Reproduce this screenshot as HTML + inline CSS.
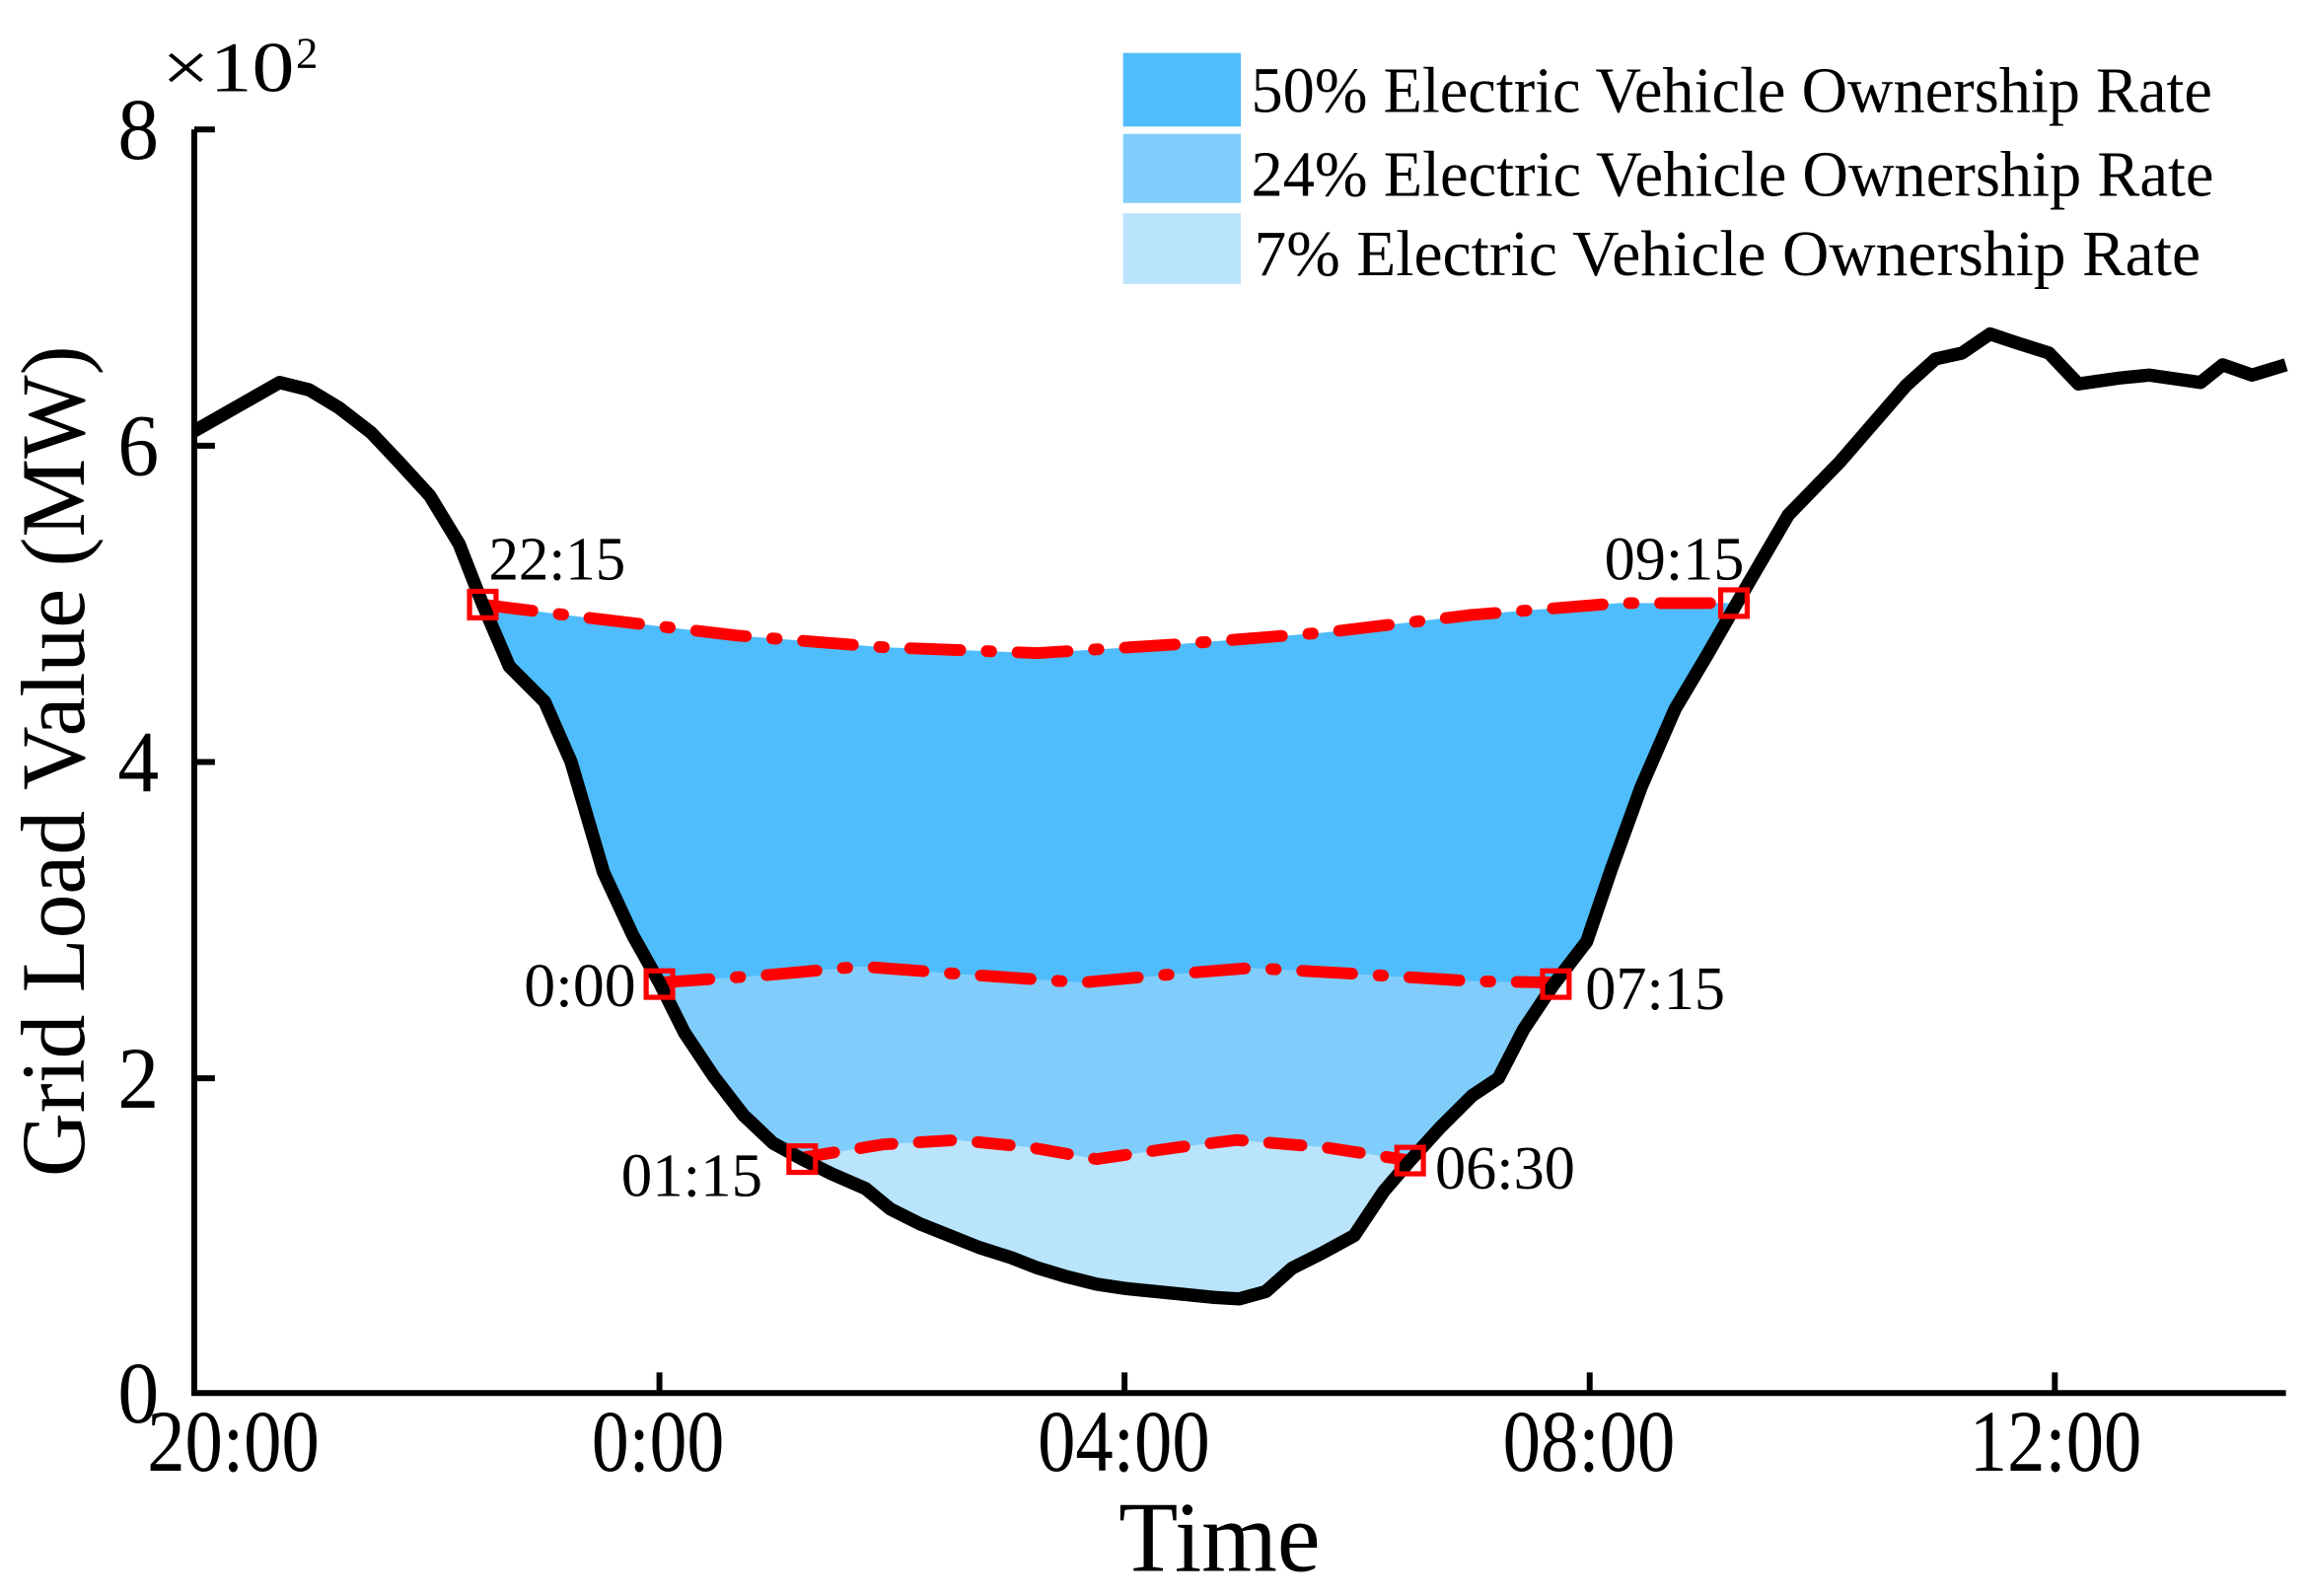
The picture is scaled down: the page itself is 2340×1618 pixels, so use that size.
<!DOCTYPE html>
<html><head><meta charset="utf-8"><style>html,body{margin:0;padding:0;background:#fff}svg{display:block}</style></head>
<body>
<svg width="2340" height="1618" viewBox="0 0 1568 1085" preserveAspectRatio="none" xmlns="http://www.w3.org/2000/svg" font-family="'Liberation Serif', serif">
<rect width="1568" height="1085" fill="#fff"/>
<polygon fill="#4fbdfb" points="328,411 400,420 500,432 600,440 705,444 800,438 900,430 1000,418 1100,410 1178,410 1160,445 1138,482 1115,535 1095,590 1078,640 1055,670 1035,700 1018,733 1000,745 978,767 958,789 940,810 920,840 898,852 878,862 860,878 842,883 825,882 805,880 785,878 765,876 745,873 725,868 705,862 687,855 665,848 645,840 625,832 605,822 588,808 565,798 545,788 525,777 505,758 485,732 465,702 448,668 430,636 410,593 388,518 370,477 346,453"/>
<polygon fill="#80cdfc" points="448,668 520,663 585,657 650,662 735,668 800,662 850,658 920,662 1000,667 1057,668 1055,670 1035,700 1018,733 1000,745 978,767 958,789 940,810 920,840 898,852 878,862 860,878 842,883 825,882 805,880 785,878 765,876 745,873 725,868 705,862 687,855 665,848 645,840 625,832 605,822 588,808 565,798 545,788 525,777 505,758 485,732 465,702"/>
<polygon fill="#b9e4fc" points="545,787 600,778 650,775 700,780 745,788 800,780 840,775 900,780 958,789 940,810 920,840 898,852 878,862 860,878 842,883 825,882 805,880 785,878 765,876 745,873 725,868 705,862 687,855 665,848 645,840 625,832 605,822 588,808 565,798"/>
<g fill="none" stroke="#ff0000" stroke-width="8" stroke-linecap="round">
<polyline stroke-dasharray="34 18 3 18" points="328,411 400,420 500,432 600,440 705,444 800,438 900,430 1000,418 1100,410 1178,410"/>
<polyline stroke-dasharray="34 18 3 18" points="448,668 520,663 585,657 650,662 735,668 800,662 850,658 920,662 1000,667 1057,668"/>
<polyline stroke-dasharray="22 18" points="545,787 600,778 650,775 700,780 745,788 800,780 840,775 900,780 958,789"/>
</g>
<polyline fill="none" stroke="#000" stroke-width="9" stroke-linejoin="round" points="132,293 190,260 210,265 230,277 252,294 270,313 292,337 312,370 328,411 346,453 370,477 388,518 410,593 430,636 448,668 465,702 485,732 505,758 525,777 545,788 565,798 588,808 605,822 625,832 645,840 665,848 687,855 705,862 725,868 745,873 765,876 785,878 805,880 825,882 842,883 860,878 878,862 898,852 920,840 940,810 958,789 978,767 1000,745 1018,733 1035,700 1055,670 1078,640 1095,590 1115,535 1138,482 1160,445 1180,410 1215,350 1250,314 1295,262 1315,244 1333,240 1352,227 1370,233 1392,240 1412,261 1440,257 1460,255 1495,260 1510,248 1530,255 1553,248"/>
<g fill="none" stroke="#ff0000" stroke-width="3.5">
<rect x="319" y="402" width="18" height="18"/>
<rect x="1169" y="401" width="18" height="18"/>
<rect x="439" y="660" width="18" height="18"/>
<rect x="1048" y="660" width="18" height="18"/>
<rect x="536" y="779" width="18" height="18"/>
<rect x="949" y="780" width="18" height="18"/>
</g>
<g stroke="#000" stroke-width="4" fill="none">
<polyline points="132,88 132,947 1553,947"/>
<line x1="132" y1="88" x2="146" y2="88"/>
<line x1="132" y1="303" x2="146" y2="303"/>
<line x1="132" y1="518" x2="146" y2="518"/>
<line x1="132" y1="733" x2="146" y2="733"/>
<line x1="448" y1="947" x2="448" y2="933"/>
<line x1="764" y1="947" x2="764" y2="933"/>
<line x1="1080" y1="947" x2="1080" y2="933"/>
<line x1="1396" y1="947" x2="1396" y2="933"/>
</g>
<g font-size="60" fill="#000">
<text x="80" y="108" textLength="28" lengthAdjust="spacingAndGlyphs">8</text>
<text x="80" y="323" textLength="28" lengthAdjust="spacingAndGlyphs">6</text>
<text x="80" y="538" textLength="28" lengthAdjust="spacingAndGlyphs">4</text>
<text x="80" y="753" textLength="28" lengthAdjust="spacingAndGlyphs">2</text>
<text x="80" y="967" textLength="28" lengthAdjust="spacingAndGlyphs">0</text>
<text x="100" y="1000" textLength="117" lengthAdjust="spacingAndGlyphs">20:00</text>
<text x="402" y="1000" textLength="90" lengthAdjust="spacingAndGlyphs">0:00</text>
<text x="705" y="1000" textLength="117" lengthAdjust="spacingAndGlyphs">04:00</text>
<text x="1021" y="1000" textLength="117" lengthAdjust="spacingAndGlyphs">08:00</text>
<text x="1338" y="1000" textLength="117" lengthAdjust="spacingAndGlyphs">12:00</text>
</g>
<text x="110" y="62" font-size="48" textLength="90" lengthAdjust="spacingAndGlyphs">×10</text><text x="201" y="46" font-size="30">2</text>
<text x="760" y="1068" font-size="68" textLength="137" lengthAdjust="spacingAndGlyphs">Time</text>
<text transform="translate(57,800) rotate(-90)" font-size="62" textLength="565" lengthAdjust="spacingAndGlyphs">Grid Load Value (MW)</text>
<g font-size="42" fill="#000" lengthAdjust="spacingAndGlyphs">
<text x="332" y="394" textLength="93" lengthAdjust="spacingAndGlyphs">22:15</text>
<text x="1090" y="394" textLength="95" lengthAdjust="spacingAndGlyphs">09:15</text>
<text x="356" y="684" textLength="76" lengthAdjust="spacingAndGlyphs">0:00</text>
<text x="1077" y="686" textLength="95" lengthAdjust="spacingAndGlyphs">07:15</text>
<text x="422" y="813" textLength="96" lengthAdjust="spacingAndGlyphs">01:15</text>
<text x="975" y="808" textLength="95" lengthAdjust="spacingAndGlyphs">06:30</text>
</g>
<rect x="763" y="36" width="80" height="50" fill="#4fbdfb"/>
<rect x="763" y="91" width="80" height="47" fill="#80cdfc"/>
<rect x="763" y="145" width="80" height="48" fill="#b9e4fc"/>
<g font-size="44" fill="#000">
<text x="850" y="76" textLength="653" lengthAdjust="spacingAndGlyphs">50% Electric Vehicle Ownership Rate</text>
<text x="850" y="133" textLength="654" lengthAdjust="spacingAndGlyphs">24% Electric Vehicle Ownership Rate</text>
<text x="852" y="187" textLength="643" lengthAdjust="spacingAndGlyphs">7%  Electric Vehicle Ownership Rate</text>
</g>
</svg>
</body></html>
